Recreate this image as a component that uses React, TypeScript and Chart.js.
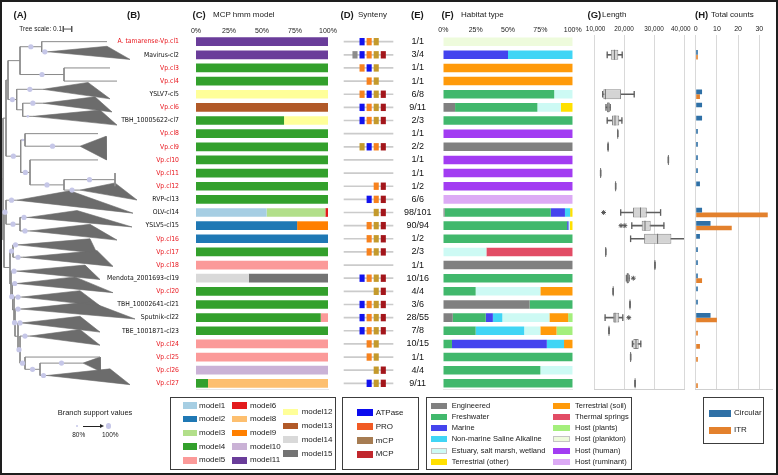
import React, { useEffect, useRef } from 'react';
import { Chart, registerables } from 'chart.js';

Chart.register(...registerables);

const SANS = '"Liberation Sans", Arial, Helvetica, sans-serif';
Chart.defaults.font.family = SANS;

// ------------------------------------------------------------------ data
const ROW_NAMES = [
  'A. tamarense-Vp.cl1', 'Mavirus-cl2', 'Vp.cl3', 'Vp.cl4', 'YSLV7-cl5', 'Vp.cl6', 'TBH_10005622-cl7',
  'Vp.cl8', 'Vp.cl9', 'Vp.cl10', 'Vp.cl11', 'Vp.cl12', 'RVP-cl13', 'OLV-cl14', 'YSLV5-cl15', 'Vp.cl16',
  'Vp.cl17', 'Vp.cl18', 'Mendota_2001693-cl19', 'Vp.cl20', 'TBH_10002641-cl21', 'Sputnik-cl22',
  'TBE_1001871-cl23', 'Vp.cl24', 'Vp.cl25', 'Vp.cl26', 'Vp.cl27',
];

const E_FRACTIONS = [
  '1/1', '3/4', '1/1', '1/1', '6/8', '9/11', '2/3', '1/1', '2/2', '1/1', '1/1', '1/2', '6/6', '98/101',
  '90/94', '1/2', '2/3', '1/1', '10/16', '4/4', '3/6', '28/55', '7/8', '10/15', '1/1', '4/4', '9/11',
];

// (C) MCP hmm model shares (% of cluster), keyed by row number
const MCP_MODELS = ['model1', 'model2', 'model3', 'model4', 'model5', 'model6', 'model8', 'model9', 'model10', 'model11', 'model12', 'model13', 'model14', 'model15'];
const MCP_COLORS = ['#a6cee3', '#1f78b4', '#b2df8a', '#33a02c', '#fb9a99', '#e31a1c', '#fdbf6f', '#ff7f00', '#cab2d6', '#6a3d9a', '#ffff99', '#b15928', '#d9d9d9', '#737373'];
const MCP_SHARES: Record<number, number>[] = [
  { 14: 53.5 },
  { 15: 76.6, 16: 100 },
  { 14: 44.5 },
  { 3: 100, 4: 100, 7: 66.7, 8: 100, 9: 100, 10: 100, 11: 100, 12: 100, 13: 100, 17: 100, 20: 100, 21: 100, 22: 94.5, 23: 100, 27: 9.1 },
  { 18: 100, 22: 5.5, 24: 100, 25: 100 },
  { 14: 2 },
  { 27: 90.9 },
  { 15: 23.4 },
  { 26: 100 },
  { 1: 100, 2: 100 },
  { 5: 100, 7: 33.3 },
  { 6: 100 },
  { 19: 40 },
  { 19: 60 },
];

// (D) synteny: one character per slot (x other, A ATPase, P PRO, m mCP, M MCP)
const SYNTENY_LAYOUT = [
  '.APm.', 'xAPmM', '.PAm.', '..Pm.', '.PAmM', '.APmM', '.APmM', '.....', '.mAPM', '.....', '.....', '...PM',
  '..APM', '...mM', '..PmM', '..PmM', '..PmM', '.....', '.APmM', '...mM', '.APmM', '.APmM', '.APmM',
  '..Pm.', '..Pm.', '...mM', '..AmM',
];
const SYNTENY_CODES = ['x', 'A', 'P', 'm', 'M'];
const SYNTENY_SQUARE_COLORS = ['#8c8c8c', '#1212ee', '#f7821e', '#c49a2c', '#a3161b'];
const SYNTENY_LEGEND = ['ATPase', 'PRO', 'mCP', 'MCP'];
const SYNTENY_LEGEND_COLORS = ['#0b0bee', '#f15a24', '#a67c52', '#c1272d'];

// (F) habitat shares (%), keyed by row number
const HABITATS = [
  'Engineered', 'Freshwater', 'Marine', 'Non-marine Saline Alkaline', 'Estuary, salt marsh, wetland', 'Terrestrial (other)',
  'Terrestrial (soil)', 'Thermal springs', 'Host (plants)', 'Host (plankton)', 'Host (human)', 'Host (ruminant)',
];
const HABITAT_COLORS = ['#808080', '#41b86c', '#4444ee', '#40d5f5', '#cdfaf4', '#ffe000', '#ff9a0a', '#e24c65', '#a4ef7c', '#eefbdc', '#a23cf2', '#dcaaf5'];
const HABITAT_SHARES: Record<number, number>[] = [
  { 6: 9.1, 9: 100, 14: 1, 18: 100, 21: 66.7, 22: 7.3 },
  { 5: 85.7, 6: 63.6, 7: 100, 14: 82.1, 15: 95.7, 16: 100, 19: 100, 20: 25, 21: 33.3, 22: 25.5, 23: 25, 24: 6.7, 25: 100, 26: 75, 27: 100 },
  { 2: 50, 14: 10.9, 15: 1.1, 22: 5.5, 24: 73.3 },
  { 2: 50, 14: 4, 22: 7.3, 23: 37.5, 24: 13.3 },
  { 5: 14.3, 6: 18.2, 15: 1.1, 17: 33.3, 20: 50, 22: 36.4, 23: 12.5, 26: 25 },
  { 6: 9.1, 14: 2, 15: 2.1 },
  { 3: 100, 4: 100, 20: 25, 22: 14.5, 23: 12.5, 24: 6.7 },
  { 17: 66.7 },
  { 22: 3.6, 23: 12.5 },
  { 1: 100 },
  { 8: 100, 10: 100, 11: 100, 12: 100 },
  { 13: 100 },
];

// (G) genome length (bp) box-plot statistics per row
const LEN_LOW = [null, 14400, null, null, 12900, 14000, 14400, 17900, 14700, 34800, 12200, 17200, null, 18900, 22600, 22200, 13900, 30300, 20800, 16400, 22000, 13700, 15000, 22800, 22200, null, 23700];
const LEN_Q1 = [null, 15600, null, null, 13100, 14300, 16000, 17900, 14700, 34800, 12200, 17200, null, 23000, 25900, 26700, 13900, 30300, 20800, 16400, 22000, 16400, 15000, 23100, 22200, null, 23700];
const LEN_MED = [null, 16800, null, null, 13800, 14700, 17000, 17900, 14700, 34800, 12200, 17200, null, 25500, 27000, 31200, 13900, 30300, 21200, 16400, 22000, 17000, 15000, 24000, 22200, null, 23700];
const LEN_Q3 = [null, 18100, null, null, 19000, 15300, 18400, 17900, 14700, 34800, 12200, 17200, null, 27600, 28900, 35800, 13900, 30300, 21700, 16400, 22000, 18400, 15000, 24900, 22200, null, 23700];
const LEN_HIGH = [null, 19400, null, null, 23400, 15400, 19300, 17900, 14700, 34800, 12200, 17200, null, 32200, 33300, 40400, 13900, 30300, 21700, 16400, 22000, 19600, 15000, 25600, 22200, null, 23700];
const LEN_OUTLIERS: [number, number][] = [[14, 13200], [15, 19000], [15, 20300], [19, 23100], [22, 21600]];
const LEN_TICKS = [10000, 20000, 30000, 40000];

// (H) total counts
const COUNT_CIRCULAR = [0, 1, 0, 0, 3, 3, 3, 1, 1, 1, 1, 2, 0, 3, 7, 2, 1, 1, 1, 1, 1, 7, 0, 0, 0, 0, 0];
const COUNT_ITR = [0, 1, 0, 0, 2, 0, 0, 0, 0, 0, 0, 0, 0, 34, 17, 0, 0, 0, 3, 0, 0, 10, 1, 2, 1, 0, 1];

// (A) tree: nodes (depth), leaves (row, tip depth), collapsed clades
// (row, apex depth, shortest tip, longest tip, height in rows, support, bottom offset in rows)
type TNode = any;
const N = (d: number, s: number, ...kids: TNode[]) => ({ kind: 'node', d, s, kids });
const Lf = (row: number, end: number, s = 0) => ({ kind: 'leaf', row, end, s });
const Tr = (row: number, apex: number, min: number, max: number, h: number, s = 0, b = 0.1) => ({ kind: 'tri', row, apex, min, max, h, s, b });

const TREE_TOP = N(6, 0,
  N(8, 0,
    N(20, 0,
      N(41.7, 1, Lf(1, 107), Tr(2, 48, 107, 130, 1.0, 1, 0.35)),
      N(64, 1, Lf(3, 110), Lf(4, 117))),
    N(16.7, 1,
      Tr(5, 43, 88, 110, 1.25, 1, 0.35),
      N(22.7, 0, Tr(6, 43, 95, 112, 1.15, 1, 0.35), Tr(7, 33, 100, 117, 1.15, 0.5, 0.35)))),
  N(20.7, 1,
    N(25, 0.5, Lf(8, 98), Tr(9, 80, 106, 106.5, 1.8, 1, 1.0)),
    N(30, 1, Lf(10, 98),
      N(64, 1, N(115, 1, Lf(11, 115.5), Lf(12, 115.5)), Tr(13, 80, 115, 137, 1.3, 1, 0.05)))));

const TREE_LADDER_TAIL = N(25, 1, Lf(25, 100), N(40, 1, Tr(26, 83, 100, 100.5, 1.1, 1), Tr(27, 47, 110, 130, 1.2, 1)));
const TREE_LADDER = N(11, 0, Tr(19, 17, 85, 100, 1.1, 1),
  N(12.5, 1, Tr(20, 17, 75, 113, 1.2, 1),
    N(14, 0, Tr(21, 22, 80, 100, 1.15, 1),
      N(15, 1, Tr(22, 21, 90, 135, 1.3, 1),
        N(18, 0, Tr(23, 22, 80, 100, 1.2, 1),
          N(20, 1, Tr(24, 30, 80, 100, 1.2, 1), TREE_LADDER_TAIL))))));

const TREE_BOTTOM = N(4, 0,
  N(6, 1, Tr(14, 17, 70, 133, 1.7, 1, 0.05), N(20, 1, Tr(15, 28, 77, 132, 1.25, 1), Tr(16, 30, 90, 117, 1.2, 1))),
  N(10, 0,
    N(13, 1, Tr(17, 18, 90, 97, 1.1, 1), Tr(18, 23, 97, 113, 1.2, 1)),
    TREE_LADDER));

const TREE = N(3, 0, TREE_TOP, TREE_BOTTOM);
const TREE_SCALE_LEN = 8.4; // tree units that represent 0.1 substitutions
const TREE_SCALE_AT = 63.3;

// ------------------------------------------------------------------ layout
const W = 778;
const H = 475;
const TOP = 35.1;
const BOTTOM = 389.9;
const PAD_B = H - BOTTOM;

const byRow = (m: Record<number, number>) => ROW_NAMES.map((_, i) => m[i + 1] ?? 0);
const isRed = (n: string) => /^(Vp\.|A\. tamarense)/.test(n);

function hasFont(name: string) {
  const ctx = document.createElement('canvas').getContext('2d');
  if (!ctx) return false;
  const s = 'Mendota_2001693-cl19 Wwm';
  ctx.font = '20px monospace';
  const a = ctx.measureText(s).width;
  ctx.font = `20px "${name}", monospace`;
  const b = ctx.measureText(s).width;
  return Math.abs(a - b) > 0.5;
}
function labelFont() {
  const ctx = document.createElement('canvas').getContext('2d');
  for (const f of ['Liberation Sans Narrow', 'Arial Narrow', 'DejaVu Sans Condensed', 'Liberation Sans']) {
    if (ctx && hasFont(f)) {
      ctx.font = `10px "${f}"`;
      const w = ctx.measureText('TBH_10005622-cl7').width;
      return { family: `"${f}"`, size: Math.max(6.8, Math.min(8, (10 * 50) / w)) };
    }
  }
  return { family: SANS, size: 6.8 };
}
function textWidth(t: string, font: string) {
  const ctx = document.createElement('canvas').getContext('2d');
  if (!ctx) return 27;
  ctx.font = font;
  return ctx.measureText(t).width;
}

const base = (padding: any) => ({
  responsive: false,
  maintainAspectRatio: false,
  animation: false,
  devicePixelRatio: 1,
  events: [],
  layout: { padding, autoPadding: false },
  plugins: { legend: { display: false }, tooltip: { enabled: false }, title: { display: false } },
});

const bottomLine = (color: string) => ({
  type: 'linear', position: 'bottom', display: true,
  grid: { display: false, drawTicks: false }, ticks: { display: false }, border: { display: true, color, width: 1 },
  afterFit: (s: any) => { s.height = 0; },
});

const topPercentAxis = (pad: number) => ({
  type: 'linear', position: 'top', stacked: true, min: 0, max: 100,
  grid: { display: false, drawTicks: false }, border: { display: false },
  ticks: { stepSize: 25, callback: (v: any) => v + '%', font: { size: 7, family: SANS }, color: '#222', padding: pad, maxRotation: 0, autoSkip: false },
  afterFit: (s: any) => { s.height = 12; },
});

function treeConfig() {
  const branches: any[] = [];
  const shapes: any[] = [];
  const supports: any[] = [];
  const gap = { x: null, y: null };
  const seg = (x1: number, y1: number, x2: number, y2: number) => branches.push({ x: x1, y: y1 }, { x: x2, y: y2 }, gap);
  const walk = (n: any, pd: number): number => {
    let y = 0;
    let d = 0;
    if (n.kind === 'leaf') {
      y = n.row; d = n.end; seg(pd, y, d, y);
    } else if (n.kind === 'tri') {
      const bottom = n.row + n.b;
      const top = bottom - n.h;
      y = top + 0.42 * n.h; d = n.apex; seg(pd, y, d, y);
      shapes.push({ x: d, y }, { x: n.min, y: top }, { x: n.max, y: bottom }, { x: d, y }, gap);
    } else {
      const ys = n.kids.map((k: any) => walk(k, n.d));
      const a = ys[0];
      const b = ys[ys.length - 1];
      seg(n.d, a, n.d, b);
      y = (a + b) / 2; d = n.d; seg(pd, y, d, y);
    }
    if (n.s) supports.push({ x: (pd + d) / 2, y, r: n.s });
    return y;
  };
  walk(TREE, TREE.d - 2);
  const sy = 0.04;
  const scaleBar = [
    { x: TREE_SCALE_AT, y: sy - 0.22 }, { x: TREE_SCALE_AT, y: sy + 0.22 }, gap,
    { x: TREE_SCALE_AT, y: sy }, { x: TREE_SCALE_AT + TREE_SCALE_LEN, y: sy }, gap,
    { x: TREE_SCALE_AT + TREE_SCALE_LEN, y: sy - 0.22 }, { x: TREE_SCALE_AT + TREE_SCALE_LEN, y: sy + 0.22 },
  ];
  return {
    type: 'line',
    data: {
      datasets: [
        { data: supports.map((s) => ({ x: s.x, y: s.y })), showLine: false, pointRadius: supports.map((s) => s.r * 2.6), pointBackgroundColor: '#c6c7e8', pointBorderWidth: 0 },
        { data: scaleBar, borderColor: '#555', borderWidth: 1, pointRadius: 0, clip: false, fill: false },
        { data: branches, borderColor: '#8a8a8a', borderWidth: 1, pointRadius: 0, fill: false },
        { data: shapes, borderColor: '#6c6c6c', backgroundColor: '#6c6c6c', borderWidth: 0.6, pointRadius: 0, fill: 'shape' },
      ],
    },
    options: {
      ...base({ left: 0, right: W - 140, top: TOP, bottom: PAD_B }),
      scales: {
        x: { type: 'linear', min: 0, max: 140, display: false },
        y: { type: 'linear', min: 0.5, max: 27.5, reverse: true, display: false },
      },
    },
  };
}

function mcpConfig() {
  const lf = labelFont();
  return {
    type: 'bar',
    data: {
      labels: ROW_NAMES,
      datasets: MCP_MODELS.map((m, k) => ({
        label: m, data: byRow(MCP_SHARES[k]), backgroundColor: MCP_COLORS[k], borderWidth: 0, barPercentage: 0.66, categoryPercentage: 1,
      })),
    },
    options: {
      ...base({ left: 100, right: W - 328, top: TOP - 12, bottom: PAD_B }),
      indexAxis: 'y',
      scales: {
        x: topPercentAxis(0),
        xb: bottomLine('#e6e6e6'),
        y: {
          stacked: true,
          grid: { display: false, drawTicks: false }, border: { display: false },
          ticks: {
            autoSkip: false, padding: 17, font: { size: lf.size, family: lf.family },
            color: (c: any) => (isRed(ROW_NAMES[c.index]) ? '#e8161d' : '#111'),
          },
          afterFit: (s: any) => { s.width = 96; },
        },
      },
    },
  };
}

function syntenyConfig() {
  const half = 0.36;
  const datasets: any[] = SYNTENY_CODES.map((code, k) => ({
    label: code,
    data: SYNTENY_LAYOUT.map((r) => {
      const slot = r.indexOf(code);
      return slot < 0 ? null : [slot - half, slot + half];
    }),
    backgroundColor: SYNTENY_SQUARE_COLORS[k], borderWidth: 0, barPercentage: 0.56, categoryPercentage: 1, grouped: false, order: 0,
  }));
  datasets.push({
    label: 'locus', data: SYNTENY_LAYOUT.map(() => [-1.55, 5.37]), backgroundColor: '#cbcbcb', borderWidth: 0, barThickness: 1, grouped: false, order: 5,
  });
  return {
    type: 'bar',
    data: { labels: ROW_NAMES, datasets },
    options: {
      ...base({ left: 340, right: W - 400, top: TOP, bottom: PAD_B }),
      indexAxis: 'y',
      scales: {
        x: { type: 'linear', min: -2.12, max: 6.36, display: false },
        y: { display: false },
      },
    },
  };
}

function habitatConfig() {
  const font = `9px ${SANS}`;
  const widest = Math.max(...E_FRACTIONS.map((t) => textWidth(t, font)));
  const pad = 25.6 - widest / 2;
  return {
    type: 'bar',
    data: {
      labels: ROW_NAMES,
      datasets: HABITATS.map((h, k) => ({
        label: h, data: byRow(HABITAT_SHARES[k]), backgroundColor: HABITAT_COLORS[k], borderWidth: 0, barPercentage: 0.65, categoryPercentage: 1,
      })),
    },
    options: {
      ...base({ left: 400, right: W - 572.7, top: TOP - 12, bottom: PAD_B }),
      indexAxis: 'y',
      scales: {
        x: topPercentAxis(1),
        xb: bottomLine('#e6e6e6'),
        y: {
          stacked: true,
          grid: { display: false, drawTicks: false }, border: { display: false },
          ticks: {
            autoSkip: false, padding: pad, crossAlign: 'center', font: { size: 9, family: SANS }, color: '#111',
            callback: (_v: any, i: number) => E_FRACTIONS[i],
          },
          afterFit: (s: any) => { s.width = 43.3; },
        },
      },
    },
  };
}

function lengthConfig() {
  const span = (a: any[], b: any[], pad = 0) => a.map((v, i) => (v == null || b[i] == null ? null : [v - pad, b[i] + pad]));
  const thick = { barPercentage: 0.76, categoryPercentage: 1, grouped: false };
  return {
    type: 'bar',
    data: {
      labels: ROW_NAMES,
      datasets: [
        { type: 'scatter', label: 'outliers', data: LEN_OUTLIERS.map(([r, v]) => ({ x: v, y: ROW_NAMES[r - 1] })), pointStyle: 'star', pointRadius: 2.4, borderColor: '#555', borderWidth: 1, backgroundColor: '#555', order: 0 },
        { label: 'median', data: span(LEN_MED, LEN_MED, 160), backgroundColor: '#6f6f6f', borderWidth: 0, ...thick, order: 1 },
        { label: 'box', data: span(LEN_Q1, LEN_Q3), backgroundColor: '#d4d4d4', borderColor: '#8a8a8a', borderWidth: 1, borderSkipped: false, ...thick, order: 2 },
        { label: 'capLow', data: span(LEN_LOW, LEN_LOW, 110), backgroundColor: '#5e5e5e', borderWidth: 0, barThickness: 6, grouped: false, order: 3 },
        { label: 'capHigh', data: span(LEN_HIGH, LEN_HIGH, 110), backgroundColor: '#5e5e5e', borderWidth: 0, barThickness: 6, grouped: false, order: 3 },
        { label: 'whisker', data: span(LEN_LOW, LEN_HIGH), backgroundColor: '#5e5e5e', borderWidth: 0, barThickness: 1, grouped: false, order: 4 },
      ],
    },
    options: {
      ...base({ left: 594, right: W - 684, top: TOP - 12, bottom: PAD_B }),
      indexAxis: 'y',
      scales: {
        x: {
          type: 'linear', position: 'top', min: LEN_TICKS[0], max: LEN_TICKS[LEN_TICKS.length - 1],
          grid: { color: '#d9d9d9', drawTicks: false, lineWidth: 1 }, border: { display: false },
          ticks: {
            stepSize: 10000,
            callback: (v: any, i: number, all: any[]) => {
              const t = Number(v).toLocaleString('en-US');
              if (i === 0) return '\u2002' + t;
              if (i === all.length - 1) return t + '\u2003';
              return t;
            },
            font: { size: 6.4, family: SANS }, color: '#222', padding: 1.8, maxRotation: 0, autoSkip: false,
          },
          afterFit: (s: any) => { s.height = 12; },
        },
        xb: bottomLine('#cfcfcf'),
        y: { display: false },
      },
    },
  };
}

function countConfig() {
  return {
    type: 'bar',
    data: {
      labels: ROW_NAMES,
      datasets: [
        { label: 'Circular', data: COUNT_CIRCULAR, backgroundColor: '#2f70a6', borderWidth: 0, barPercentage: 1, categoryPercentage: 0.72 },
        { label: 'ITR', data: COUNT_ITR, backgroundColor: '#e3812d', borderWidth: 0, barPercentage: 1, categoryPercentage: 0.72 },
      ],
    },
    options: {
      ...base({ left: 695.7, right: W - 772, top: TOP - 12, bottom: PAD_B }),
      indexAxis: 'y',
      scales: {
        x: {
          type: 'linear', position: 'top', min: 0, max: 36,
          grid: { color: '#d9d9d9', drawTicks: false, lineWidth: 1 }, border: { display: false },
          ticks: { stepSize: 10, includeBounds: false, font: { size: 7, family: SANS }, color: '#222', padding: 1.4, maxRotation: 0, autoSkip: false },
          afterFit: (s: any) => { s.height = 12; },
        },
        xb: bottomLine('#cfcfcf'),
        y: { display: false },
      },
    },
  };
}

// ------------------------------------------------------------------ html text helpers
const Txt = ({ x, y, children, size = 8, bold = false, align = 'left', color = '#1a1a1a' }: any) => (
  <div
    style={{
      position: 'absolute', left: x, top: y, whiteSpace: 'nowrap', lineHeight: 1, fontFamily: SANS,
      fontSize: size, fontWeight: bold ? 700 : 400, color,
      transform: `translate(${align === 'center' ? '-50%' : align === 'right' ? '-100%' : '0'}, -50%)`,
    }}
  >
    {children}
  </div>
);
const Box = ({ x, y, w, h }: any) => (
  <div style={{ position: 'absolute', left: x, top: y, width: w, height: h, border: '1px solid #3c3c3c', boxSizing: 'border-box' }} />
);
const Swatch = ({ x, y, w, h, color, outline }: any) => (
  <div style={{ position: 'absolute', left: x, top: y - h / 2, width: w, height: h, background: color, boxSizing: 'border-box', border: outline ? '1px solid #c4c4c4' : 'none' }} />
);

const HEADERS: [number, string, boolean][] = [
  [13.5, '(A)', true], [127, '(B)', true], [192.5, '(C)', true], [213, 'MCP hmm model', false],
  [340.5, '(D)', true], [358, 'Synteny', false], [411, '(E)', true], [441.5, '(F)', true], [461, 'Habitat type', false],
  [587.5, '(G)', true], [602, 'Length', false], [695, '(H)', true], [711, 'Total counts', false],
];

export default function App() {
  const treeRef = useRef<HTMLCanvasElement>(null);
  const mcpRef = useRef<HTMLCanvasElement>(null);
  const synRef = useRef<HTMLCanvasElement>(null);
  const habRef = useRef<HTMLCanvasElement>(null);
  const lenRef = useRef<HTMLCanvasElement>(null);
  const cntRef = useRef<HTMLCanvasElement>(null);

  useEffect(() => {
    document.body.style.margin = '0';
    const charts = [
      new Chart(treeRef.current as any, treeConfig() as any),
      new Chart(mcpRef.current as any, mcpConfig() as any),
      new Chart(synRef.current as any, syntenyConfig() as any),
      new Chart(habRef.current as any, habitatConfig() as any),
      new Chart(lenRef.current as any, lengthConfig() as any),
      new Chart(cntRef.current as any, countConfig() as any),
    ];
    return () => charts.forEach((c) => c.destroy());
  }, []);

  const cv = { position: 'absolute' as const, left: 0, top: 0, width: W, height: H };
  const mcpCol1 = MCP_MODELS.slice(0, 5);
  const mcpCol2 = MCP_MODELS.slice(5, 10);
  const mcpCol3 = MCP_MODELS.slice(10);
  const habCol1 = HABITATS.slice(0, 6);
  const habCol2 = HABITATS.slice(6);

  return (
    <div style={{ position: 'absolute', left: 0, top: 0, width: W, height: H, background: '#fff', overflow: 'hidden', fontFamily: SANS }}>
      <canvas ref={treeRef} width={W} height={H} style={cv} />
      <canvas ref={mcpRef} width={W} height={H} style={cv} />
      <canvas ref={synRef} width={W} height={H} style={cv} />
      <canvas ref={habRef} width={W} height={H} style={cv} />
      <canvas ref={lenRef} width={W} height={H} style={cv} />
      <canvas ref={cntRef} width={W} height={H} style={cv} />

      {HEADERS.map(([x, t, b]) => (
        <Txt key={t} x={x} y={15} size={b ? 9.5 : 8} bold={b}>{t}</Txt>
      ))}
      <Txt x={19.3} y={29} size={6.5}>Tree scale: 0.1</Txt>

      {/* branch support legend */}
      <Txt x={95} y={412.7} size={7.5} align="center">Branch support values</Txt>
      <div style={{ position: 'absolute', left: 76.7 - 1.2, top: 426 - 1.2, width: 2.4, height: 2.4, borderRadius: '50%', background: '#c6c7e8' }} />
      <div style={{ position: 'absolute', left: 108.3 - 2.8, top: 426 - 2.8, width: 5.6, height: 5.6, borderRadius: '50%', background: '#c6c7e8' }} />
      <div style={{ position: 'absolute', left: 83, top: 425.5, width: 17, height: 1, background: '#222' }} />
      <div style={{ position: 'absolute', left: 100, top: 424, width: 0, height: 0, borderTop: '2px solid transparent', borderBottom: '2px solid transparent', borderLeft: '4px solid #222' }} />
      <Txt x={78.7} y={434.5} size={6.5} align="center">80%</Txt>
      <Txt x={110.3} y={434.5} size={6.5} align="center">100%</Txt>

      {/* MCP model legend */}
      <Box x={170} y={396.7} w={166} h={73.3} />
      {mcpCol1.map((m, i) => (
        <React.Fragment key={m}>
          <Swatch x={182.7} y={405.5 + i * 13.7} w={14} h={6.5} color={MCP_COLORS[MCP_MODELS.indexOf(m)]} />
          <Txt x={199} y={405.5 + i * 13.7} size={8}>{m}</Txt>
        </React.Fragment>
      ))}
      {mcpCol2.map((m, i) => (
        <React.Fragment key={m}>
          <Swatch x={232.3} y={405.5 + i * 13.7} w={14.4} h={6.5} color={MCP_COLORS[MCP_MODELS.indexOf(m)]} />
          <Txt x={250} y={405.5 + i * 13.7} size={8}>{m}</Txt>
        </React.Fragment>
      ))}
      {mcpCol3.map((m, i) => (
        <React.Fragment key={m}>
          <Swatch x={283.3} y={411.9 + i * 13.9} w={15} h={6.5} color={MCP_COLORS[MCP_MODELS.indexOf(m)]} />
          <Txt x={301.7} y={411.9 + i * 13.9} size={8}>{m}</Txt>
        </React.Fragment>
      ))}

      {/* synteny legend */}
      <Box x={341.7} y={396.7} w={77.3} h={73.3} />
      {SYNTENY_LEGEND.map((g, i) => (
        <React.Fragment key={g}>
          <Swatch x={357.3} y={412.7 + i * 13.9} w={16} h={6.5} color={SYNTENY_LEGEND_COLORS[i]} />
          <Txt x={375.7} y={412.7 + i * 13.9} size={8}>{g}</Txt>
        </React.Fragment>
      ))}

      {/* habitat legend */}
      <Box x={426} y={396.7} w={205.7} h={73.3} />
      {habCol1.map((h, i) => (
        <React.Fragment key={h}>
          <Swatch x={430.7} y={405.7 + i * 11.2} w={16.7} h={6} color={HABITAT_COLORS[i]} outline={h.startsWith('Estuary')} />
          <Txt x={451.7} y={405.7 + i * 11.2} size={7.5}>{h}</Txt>
        </React.Fragment>
      ))}
      {habCol2.map((h, i) => (
        <React.Fragment key={h}>
          <Swatch x={553.3} y={405.7 + i * 11.2} w={16.7} h={6} color={HABITAT_COLORS[i + 6]} outline={h === 'Host (plankton)'} />
          <Txt x={575} y={405.7 + i * 11.2} size={7.5}>{h}</Txt>
        </React.Fragment>
      ))}

      {/* counts legend */}
      <Box x={702.7} y={396.7} w={61.6} h={47.6} />
      <Swatch x={709} y={413.3} w={22} h={7} color="#2f70a6" />
      <Txt x={734} y={413.3} size={8}>Circular</Txt>
      <Swatch x={709} y={430} w={22} h={7} color="#e3812d" />
      <Txt x={734} y={430} size={8}>ITR</Txt>

      <div style={{ position: 'absolute', left: 0, top: 0, width: W, height: H, border: '2px solid #1e1e1e', boxSizing: 'border-box', pointerEvents: 'none' }} />
    </div>
  );
}
